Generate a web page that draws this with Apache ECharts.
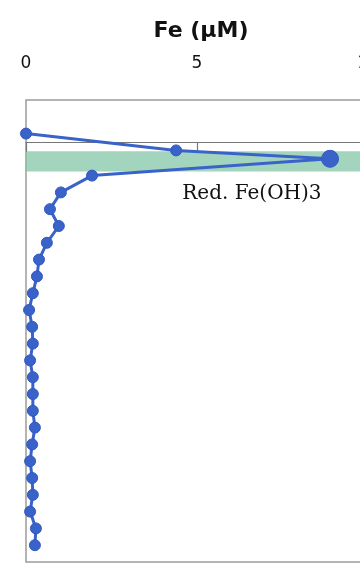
<!DOCTYPE html>
<html>
<head>
<meta charset="utf-8">
<script src="https://cdn.jsdelivr.net/npm/echarts@6/dist/echarts.min.js"></script>
<style>
  html, body { margin: 0; padding: 0; background: #ffffff; overflow: hidden; }
  #chart { width: 360px; height: 588px; }
</style>
</head>
<body>
<div id="chart"></div>
<script>
// Dissolved Fe profile (µM) against depth (cm); depth 0 is the sediment surface
const depths = [-0.5, 0.5, 1, 2, 3, 4, 5, 6, 7, 8, 9, 10, 11, 12, 13, 14, 15, 16, 17, 18, 19, 20, 21, 22, 23, 24];
const feValues = [0.0, 4.39, 8.89, 1.93, 1.02, 0.70, 0.96, 0.61, 0.38, 0.32, 0.20, 0.09, 0.18, 0.20, 0.12, 0.20, 0.20, 0.20, 0.26, 0.18, 0.12, 0.18, 0.20, 0.12, 0.29, 0.26];
const peakIndex = 2;
// Zone of reduced Fe(OH)3 (depth range, cm)
const reductionZone = [0.55, 1.75];
const zoneLabel = 'Red. Fe(OH)3';
const zoneLabelAt = [4.57, 3.1];
const feTicks = { min: 0, max: 10, interval: 5 };

const blue = '#3a63c9';

const chart = echarts.init(document.getElementById('chart'), null, { renderer: 'canvas' });

const points = feValues.map((v, i) => ({
  value: [v, depths[i]],
  symbolSize: i === peakIndex ? 17 : 11
}));

chart.setOption({
  backgroundColor: '#ffffff',
  animation: false,
  grid: {
    left: 26, top: 100, bottom: 26, right: -8,
    outerBoundsMode: 'none',
    containLabel: false,
    show: true, borderColor: '#9c9c9c', borderWidth: 1.5, backgroundColor: '#ffffff'
  },
  xAxis: [
    {
      type: 'value', position: 'top',
      min: feTicks.min, max: feTicks.max, interval: feTicks.interval,
      name: 'Fe (μM)', nameLocation: 'middle', nameGap: 58,
      nameTextStyle: { fontFamily: 'DejaVu Sans', fontWeight: 'bold', fontSize: 22, color: '#111', padding: [0, 0, 0, 8] },
      axisLine: { show: false, onZero: false },
      axisTick: { show: false },
      splitLine: { show: false },
      axisLabel: { fontFamily: 'DejaVu Sans', fontSize: 17, color: '#111', margin: 28 }
    },
    {
      type: 'value', position: 'top',
      min: feTicks.min, max: feTicks.max, interval: feTicks.interval,
      axisLine: { show: true, onZero: true, lineStyle: { color: '#777', width: 1.2 } },
      axisTick: { show: true, inside: true, length: 10, lineStyle: { color: '#777', width: 1.2 } },
      axisLabel: { show: false },
      splitLine: { show: false }
    }
  ],
  yAxis: {
    type: 'value', inverse: true, min: -2.5, max: 25,
    axisLine: { show: false }, axisTick: { show: false },
    axisLabel: { show: false }, splitLine: { show: false }
  },
  series: [
    {
      type: 'line',
      xAxisIndex: 0,
      data: points,
      clip: false,
      symbol: 'circle',
      lineStyle: { color: blue, width: 3 },
      itemStyle: { color: blue, borderColor: '#3159c0', borderWidth: 1 },
      z: 5,
      markArea: {
        silent: true,
        itemStyle: { color: 'rgba(128, 197, 165, 0.72)' },
        data: [[{ yAxis: reductionZone[0] }, { yAxis: reductionZone[1] }]],
        z: 1
      },
      markPoint: {
        symbol: 'circle', symbolSize: 0, silent: true,
        label: {
          show: true, position: 'right', distance: 0,
          formatter: zoneLabel,
          fontFamily: 'DejaVu Serif', fontSize: 20, color: '#111'
        },
        data: [{ coord: zoneLabelAt }]
      }
    }
  ]
});
</script>
</body>
</html>
